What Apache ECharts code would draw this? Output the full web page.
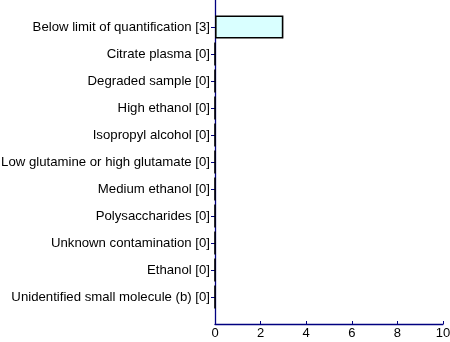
<!DOCTYPE html>
<html><head><meta charset="utf-8">
<script src="https://cdn.jsdelivr.net/npm/echarts@6/dist/echarts.min.js"></script>
<style>html,body{margin:0;padding:0;background:#fff}#c{width:450px;height:342px}</style>
</head><body><div id="c"></div>
<script>
const categories = [
  "Below limit of quantification [3]",
  "Citrate plasma [0]",
  "Degraded sample [0]",
  "High ethanol [0]",
  "Isopropyl alcohol [0]",
  "Low glutamine or high glutamate [0]",
  "Medium ethanol [0]",
  "Polysaccharides [0]",
  "Unknown contamination [0]",
  "Ethanol [0]",
  "Unidentified small molecule (b) [0]"
];
const values = [3, 0, 0, 0, 0, 0, 0, 0, 0, 0, 0];
const xTicks = [0, 2, 4, 6, 8, 10];

const axisData = [''].concat(categories, ['']);
const seriesData = [null].concat(values, [null]);
const axisColor = '#000080';
const font = 'Liberation Sans, Arial, sans-serif';
const chart = echarts.init(document.getElementById('c'), null, {renderer: 'canvas'});
chart.setOption({
  animation: false,
  grid: {left: 215, right: 7, top: 0, bottom: 18, containLabel: false, outerBoundsMode: 'none'},
  xAxis: {
    type: 'value', min: xTicks[0], max: xTicks[xTicks.length - 1], interval: 2,
    axisLine: {show: true, lineStyle: {color: axisColor, width: 1.3}},
    axisTick: {show: true, inside: true, length: 3, lineStyle: {color: axisColor}},
    splitLine: {show: false},
    axisLabel: {color: '#000', fontFamily: font, fontSize: 13, margin: 3}
  },
  yAxis: {
    type: 'category', inverse: true, data: axisData, boundaryGap: false,
    axisLine: {show: true, lineStyle: {color: axisColor, width: 1.3}},
    axisTick: {show: true, length: 4, lineStyle: {color: axisColor},
      interval: function (i) { return i > 0 && i < axisData.length - 1; }},
    axisLabel: {color: '#000', fontFamily: font, fontSize: 13.2, margin: 5, interval: 0},
    splitLine: {show: false}
  },
  series: [{
    type: 'bar', data: seriesData, barWidth: 23,
    itemStyle: {color: '#d9ffff', borderColor: '#000', borderWidth: 1.6}
  }]
});
</script></body></html>
